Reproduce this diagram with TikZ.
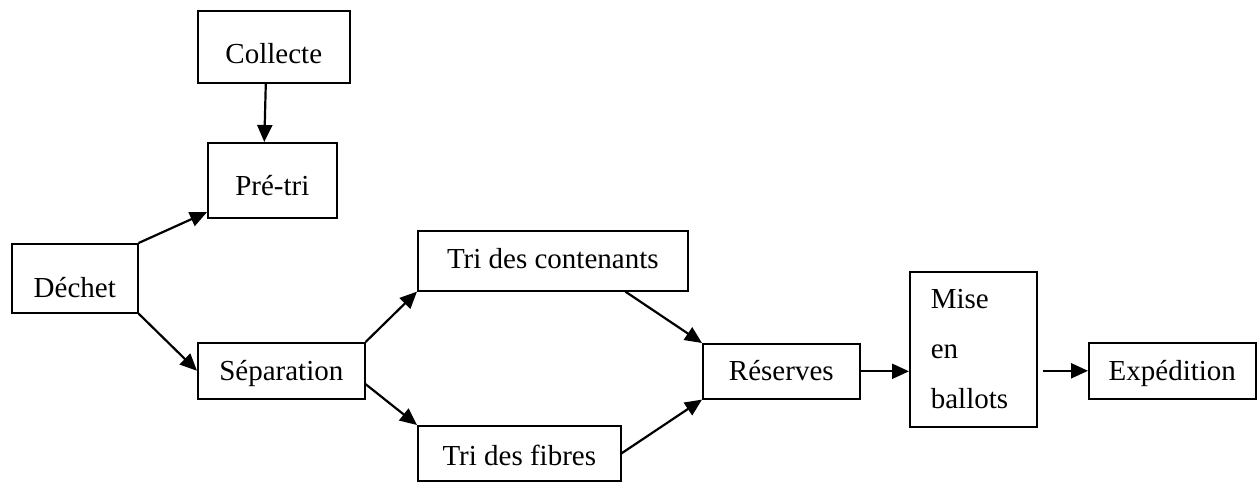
\documentclass[tikz,border=0pt]{standalone}
\usepackage{fontspec}
\setmainfont{Liberation Serif}
\usetikzlibrary{arrows.meta}

\begin{document}
\begin{tikzpicture}[x=1pt,y=-1pt,
	  box node/.style={draw,rectangle,line width=1.6pt,inner sep=0pt,anchor=north west,font=\fontsize{29}{50}\selectfont},
	  flow/.style={line width=2.2pt,-{Triangle[length=17pt,width=15pt]}}]

	  \useasboundingbox (0,0) rectangle (1257,482);

	  \node[box node,minimum width=152pt,text height=53pt,text depth=19pt] (collecte) at (197,10) {Collecte};
	  \node[box node,minimum width=129pt,text height=53pt,text depth=22pt] (pretri) at (207,142) {Pré-tri};
	  \node[box node,minimum width=126pt,text height=54pt,text depth=15pt] (dechet) at (11,243) {Déchet};
	  \node[box node,minimum width=167pt,text height=38pt,text depth=18pt] (sep) at (197,342) {Séparation};
	  \node[box node,minimum width=270pt,text height=38pt,text depth=22pt] (tric) at (417,230) {Tri des contenants};
	  \node[box node,minimum width=203pt,text height=40pt,text depth=15pt] (trif) at (417,425) {Tri des fibres};
	  \node[box node,minimum width=157pt,text height=37pt,text depth=18pt] (res) at (702,343) {Réserves};
	  \node[box node,minimum width=127pt,minimum height=155pt,text width=85pt,align=left] (mise) at (909,271) {Mise\\en\\ballots};
	  \node[box node,minimum width=167pt,text height=38pt,text depth=18pt] (exp) at (1088,342) {Expédition};

	  \path[flow]
	    ([xshift=-8pt]collecte.south) edge ([xshift=-8pt]pretri.north)
	    (dechet.north east) edge (pretri.206.7)
	    (dechet.south east) edge (sep.west)
	    (sep.north east) edge (tric.south west)
	    (sep.-9) edge (trif.north west)
	    (tric.-23.8) edge (res.north west)
	    (trif.east) edge (res.south west)
	    (res.east) edge (res.east -| mise.west)
	    (mise.east |- exp.west) edge [shorten <=5pt] (exp.west);

	\end{tikzpicture}
\end{document}
